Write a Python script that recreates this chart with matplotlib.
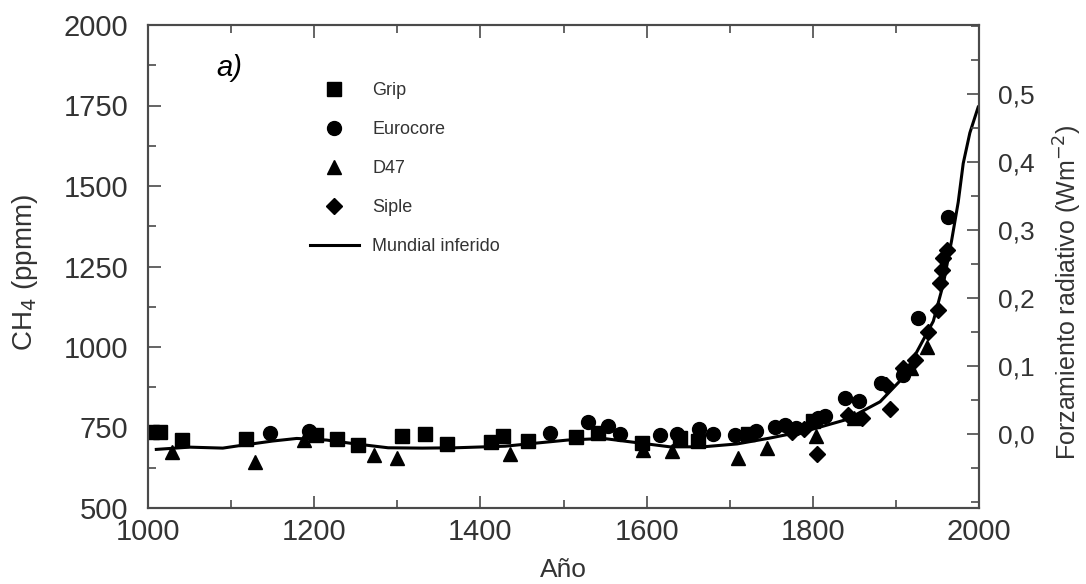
import matplotlib
matplotlib.use("Agg")
import matplotlib.pyplot as plt
from matplotlib.ticker import MultipleLocator, FixedLocator, FuncFormatter

plt.rcParams['font.family'] = ['Liberation Sans', 'DejaVu Sans']

# ---- data ----
grip_years = [1005, 1015, 1041, 1118, 1202, 1227, 1253, 1306, 1333, 1360, 1413, 1427,
              1457, 1515, 1541, 1594, 1640, 1662, 1722, 1800]
grip_ppm = [735, 735, 710, 714, 727, 713, 696, 723, 731, 700, 705, 723,
            708, 720, 733, 702, 716, 708, 730, 770]

euro_years = [1147, 1194, 1484, 1529, 1554, 1568, 1616, 1637, 1663, 1680, 1706, 1732,
              1755, 1767, 1780, 1806, 1815, 1839, 1856, 1882, 1908, 1927, 1963]
euro_ppm = [733, 739, 733, 767, 754, 730, 727, 729, 746, 730, 727, 739,
            751, 758, 750, 779, 785, 842, 832, 888, 913, 1090, 1404]

d47_years = [1029, 1129, 1188, 1272, 1300, 1436, 1596, 1631, 1710, 1745, 1804, 1850,
             1918, 1937]
d47_ppm = [674, 643, 711, 665, 655, 667, 680, 677, 655, 686, 724, 780,
           935, 1000]

siple_years = [1775, 1790, 1805, 1842, 1859, 1893, 1888, 1909, 1923, 1939, 1951,
               1953, 1955, 1957, 1962]
siple_ppm = [735, 745, 668, 790, 780, 807, 882, 935, 960, 1047, 1115,
             1199, 1239, 1276, 1300]

line_years = [1010, 1050, 1090, 1111, 1150, 1179, 1215, 1247, 1289, 1330, 1370, 1430,
              1469, 1505, 1548, 1588, 1628, 1668, 1709, 1748, 1773, 1800, 1841, 1881,
              1905, 1921, 1945, 1957, 1967, 1975, 1981, 1989, 1999]
line_ppm = [682, 689, 686, 694, 708, 716, 711, 700, 687, 686, 687, 692,
            702, 711, 716, 703, 690, 690, 699, 717, 730, 745, 775, 830,
            895, 965, 1080, 1195, 1330, 1450, 1570, 1665, 1745]

left_ticks = [500, 750, 1000, 1250, 1500, 1750, 2000]
right_ticks = [0.0, 0.1, 0.2, 0.3, 0.4, 0.5]
x_ticks = [1000, 1200, 1400, 1600, 1800, 2000]

# ---- figure ----
fig = plt.figure(figsize=(10.86, 5.84), dpi=100)
ax = fig.add_axes([148/1086, 1-508/584, (979-148)/1086, (508-25)/584])

tcol = '#333333'
scol = '#4a4a4a'

ms = 10
ax.plot(grip_years, grip_ppm, 's', color='black', ms=ms, ls='none', label='Grip')
ax.plot(euro_years, euro_ppm, 'o', color='black', ms=ms, ls='none', label='Eurocore')
ax.plot(d47_years, d47_ppm, '^', color='black', ms=ms, ls='none', label='D47')
ax.plot(siple_years, siple_ppm, 'D', color='black', ms=8, ls='none', label='Siple')
ax.plot(line_years, line_ppm, '-', color='black', lw=2.2, label='Mundial inferido')

ax.set_xlim(1000, 2000)
ax.set_ylim(500, 2000)
ax.xaxis.set_major_locator(FixedLocator(x_ticks))
ax.xaxis.set_minor_locator(MultipleLocator(100))
ax.yaxis.set_major_locator(FixedLocator(left_ticks))
ax.yaxis.set_minor_locator(MultipleLocator(125))

for s in ax.spines.values():
    s.set_color(scol)
    s.set_linewidth(1.5)

ax.tick_params(axis='both', which='both', direction='in', colors=scol, width=1.2,
               labelcolor=tcol, labelsize=21)
ax.tick_params(axis='x', which='both', top=True)
ax.tick_params(axis='y', which='both', right=False)
ax.tick_params(which='major', length=9)
ax.tick_params(which='minor', length=6)
ax.tick_params(axis='x', pad=7)
ax.tick_params(axis='y', pad=14)

ax.set_ylabel('CH$_4$ (ppmm)', fontsize=20, color=tcol)
ax.yaxis.set_label_coords((40 - 148) / 831, (508 - 272) / 483)
fig.text(563/1086, 1-570/584, 'Año', fontsize=19, color=tcol, ha='center', va='center')

ax2 = ax.twinx()
ax2.set_ylim(-0.109, 0.601)
ax2.yaxis.set_major_locator(FixedLocator(right_ticks))
ax2.yaxis.set_minor_locator(MultipleLocator(0.05))
ax2.yaxis.set_major_formatter(FuncFormatter(lambda v, p: f'{v:.1f}'.replace('.', ',')))
for s in ax2.spines.values():
    s.set_color(scol)
    s.set_linewidth(1.5)
ax2.tick_params(axis='y', which='both', direction='in', colors=scol, width=1.2,
                labelcolor=tcol, labelsize=19, pad=14)
ax2.tick_params(which='major', length=9)
ax2.tick_params(which='minor', length=6)
ax2.set_ylabel('Forzamiento radiativo (Wm$^{-2}$)', fontsize=18, color=tcol,
               rotation=90)
ax2.yaxis.set_label_coords((1052 - 148) / 831, (508 - 292) / 483)

ax.text(0.082, 0.895, 'a)', transform=ax.transAxes, fontsize=21, style='italic',
        color='black')

leg = ax.legend(loc='upper left', bbox_to_anchor=(0.195, 0.882), frameon=False,
                fontsize=13, labelspacing=1.22, handlelength=2.7, handletextpad=0.75,
                borderpad=0, borderaxespad=0)
for t in leg.get_texts():
    t.set_color(tcol)

fig.savefig('out.png', dpi=100)
